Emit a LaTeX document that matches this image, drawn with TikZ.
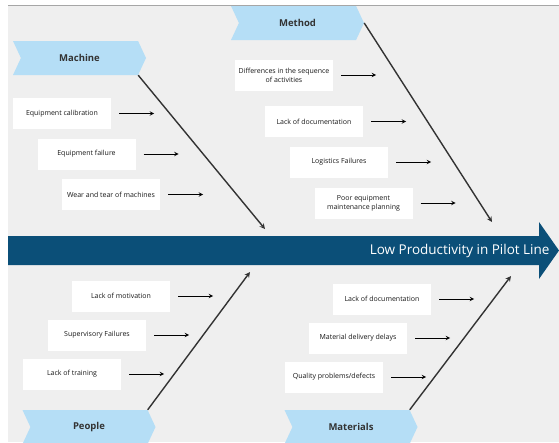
\documentclass[tikz,border=0pt]{standalone}
\usepackage{fontspec}
\setmainfont{Open Sans}
\usetikzlibrary{shapes.symbols}

\definecolor{bggray}{HTML}{EFEFEF}
\definecolor{tagblue}{HTML}{B5DEF6}
\definecolor{spineblue}{HTML}{0B4F78}
\definecolor{bonegray}{HTML}{333333}

\tikzset{
  category/.style={signal, signal from=west, signal to=east, signal pointer angle=130,
    fill=tagblue, minimum width=133pt, minimum height=34pt, inner sep=0pt,
    font=\fontsize{9.5}{10}\selectfont\bfseries, text=black!80},
  cause/.style={fill=white, minimum width=98pt, minimum height=31pt, inner sep=0pt,
    align=center, font=\fontsize{7}{9}\selectfont, text=black!90},
  bone/.style={->,>=stealth, bonegray, line width=1.4pt},
  hint/.style={->,>=stealth, black, line width=1pt},
}

\begin{document}
\begin{tikzpicture}[x=1pt,y=-1pt]
\useasboundingbox (0,0) rectangle (559,442);
\clip (0,0) rectangle (559,442);
\fill[bggray] (8,5) rectangle (559,442);
\draw[black!35, line width=0.8pt] (8,5) -- (559,5);

% spine
\fill[spineblue] (8,236) -- (539,236) -- (539,222) -- (559,250.5) -- (539,279) -- (539,265) -- (8,265) -- cycle;
\node[anchor=east, text=white, font=\fontsize{13.5}{15}\selectfont] (effect) at (553,251) {Low Productivity in Pilot Line};

% categories
\node[category] (machine) at (79.5,58) {Machine};
\node[category] (method) at (297.5,23) {Method};
\node[category] (people) at (89,427) {People};
\node[category] (materials) at (351,427) {Materials};

\coordinate (machineend) at (265,229);
\coordinate (methodend) at (492,222);
\coordinate (peopleend) at (250,272);
\coordinate (materialsend) at (511,276);

\draw[bone] (machine.south east) -- (machineend);
\draw[bone] (method.east) -- (methodend);
\draw[bone] (people.north east) -- (peopleend);
\draw[bone] (materials.north east) -- (materialsend);

% machine causes
\node[cause] (mc1) at (62,113.5) {Equipment calibration};
\node[cause] (mc2) at (86.5,154) {Equipment failure};
\node[cause] (mc3) at (111,194.5) {Wear and tear of machines};

% method causes
\node[cause] (me1) at (284,75) {Differences in the sequence\\of activities};
\node[cause] (me2) at (314,121.5) {Lack of documentation};
\node[cause] (me3) at (339,162) {Logistics Failures};
\node[cause] (me4) at (363.5,203) {Poor equipment\\maintenance planning};

% people causes
\node[cause] (pe1) at (121,296) {Lack of motivation};
\node[cause] (pe2) at (97,335) {Supervisory Failures};
\node[cause] (pe3) at (72,374) {Lack of training};

% materials causes
\node[cause] (ma1) at (382,299) {Lack of documentation};
\node[cause] (ma2) at (358,338) {Material delivery delays};
\node[cause] (ma3) at (334,377) {Quality problems/defects};

\foreach \c in {mc1,mc2,mc3,me1,me2,me3,me4,pe1,pe2,pe3,ma1,ma2,ma3}
  \draw[hint] ([xshift=8pt]\c.east) -- ++(35,0);

\end{tikzpicture}
\end{document}
